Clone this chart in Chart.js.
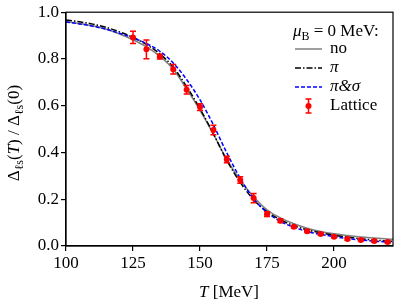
<!DOCTYPE html>
<html>
<head>
<meta charset="utf-8">
<script src="https://cdn.jsdelivr.net/npm/chart.js@4.4.0/dist/chart.umd.min.js"></script>
<style>
html,body{margin:0;padding:0;background:#fff;}
#wrap{width:399px;height:306px;}
</style>
</head>
<body>
<div id="wrap"><canvas id="c" width="399" height="306"></canvas></div>
<script>
// ---- data ----
const tGrid = [100,105,110,115,120,125,130,135,140,145,150,155,160,165,170,175,180,185,190,195,200,205,210,215,220,222];
const curveNo      = [0.960,0.952,0.942,0.927,0.907,0.882,0.852,0.812,0.756,0.672,0.580,0.478,0.370,0.282,0.211,0.155,0.120,0.095,0.076,0.062,0.052,0.045,0.039,0.034,0.030,0.029];
const curvePi      = [0.967,0.959,0.949,0.935,0.916,0.892,0.862,0.822,0.765,0.682,0.587,0.480,0.366,0.272,0.198,0.147,0.112,0.087,0.069,0.056,0.046,0.038,0.031,0.026,0.021,0.020];
const curvePiSigma = [0.958,0.950,0.940,0.927,0.910,0.890,0.866,0.833,0.783,0.712,0.625,0.518,0.398,0.290,0.202,0.143,0.105,0.080,0.062,0.050,0.040,0.032,0.026,0.021,0.017,0.016];
const latticeT   = [125,130,135,140,145,150,155,160,165,170,175,180,185,190,195,200,205,210,215,220];
const latticeVal = [0.892,0.841,0.810,0.756,0.668,0.594,0.496,0.370,0.282,0.205,0.136,0.108,0.082,0.063,0.051,0.040,0.030,0.026,0.021,0.017];
const latticeErr = [0.026,0.040,0.010,0.020,0.018,0.014,0.020,0.014,0.014,0.020,0.010,0.008,0.005,0.005,0.005,0.005,0.005,0.005,0.005,0.005];
const xTicks = [100,125,150,175,200];
const yTicks = [0.0,0.2,0.4,0.6,0.8,1.0];
const legendTitle = ['μ','B',' = 0 MeV:'];
const legendLabels = ['no','π','π&σ','Lattice'];

const FONT = '"Liberation Serif", "DejaVu Serif", serif';
const colNo = '#7f7f7f', colPi = '#000000', colPS = '#0000ff', colLat = '#ff0000';

const toXY = (xs, ys) => xs.map((x,i)=>({x:x, y:ys[i]}));

function drawRich(ctx, parts, x, y, size, align){
  ctx.textAlign = 'left';
  const widths = parts.map(p=>{
    ctx.font = (p.italic?'italic ':'') + (p.sub? size*0.7 : size) + 'px ' + FONT;
    return ctx.measureText(p.t).width;
  });
  const total = widths.reduce((a,b)=>a+b,0);
  let cx = align==='center' ? x - total/2 : x;
  parts.forEach((p,i)=>{
    ctx.font = (p.italic?'italic ':'') + (p.sub? size*0.7 : size) + 'px ' + FONT;
    ctx.fillText(p.t, cx, p.sub ? y + size*0.25 : y);
    cx += widths[i];
  });
}

const errorBarPlugin = {
  id:'errbars',
  beforeDatasetDraw(chart, args){
    if(args.index !== 3) return;
    const ctx = chart.ctx, xs = chart.scales.x, ys = chart.scales.y;
    ctx.save();
    ctx.strokeStyle = colLat; ctx.lineWidth = 1.5;
    latticeT.forEach((t,i)=>{
      const px = xs.getPixelForValue(t);
      const y1 = ys.getPixelForValue(latticeVal[i]-latticeErr[i]);
      const y2 = ys.getPixelForValue(latticeVal[i]+latticeErr[i]);
      ctx.beginPath();
      ctx.moveTo(px,y1); ctx.lineTo(px,y2);
      ctx.moveTo(px-3,y1); ctx.lineTo(px+3,y1);
      ctx.moveTo(px-3,y2); ctx.lineTo(px+3,y2);
      ctx.stroke();
    });
    ctx.restore();
  }
};

const framePlugin = {
  id:'frame',
  afterDatasetsDraw(chart){
    const a = chart.chartArea, ctx = chart.ctx;
    ctx.save();
    ctx.strokeStyle = '#000'; ctx.lineWidth = 1.2;
    ctx.strokeRect(a.left, a.top, a.right-a.left, a.bottom-a.top);
    ctx.restore();
  }
};

const textPlugin = {
  id:'texts',
  afterDraw(chart){
    const ctx = chart.ctx, a = chart.chartArea;
    ctx.save();
    ctx.fillStyle = '#000';
    ctx.textBaseline = 'alphabetic';
    // x title
    drawRich(ctx, [{t:'T',italic:true},{t:' [MeV]'}], 229, 297, 17, 'center');
    // y title
    ctx.save();
    ctx.translate(19, (a.top+a.bottom)/2 + 4);
    ctx.rotate(-Math.PI/2);
    drawRich(ctx, [{t:'Δ'},{t:'ℓs',sub:true},{t:'('},{t:'T',italic:true},{t:') / Δ'},{t:'ℓs',sub:true},{t:'(0)'}], 0, 0, 17, 'center');
    ctx.restore();
    // legend
    const lx0 = 295, lx1 = 322, tx = 330;
    drawRich(ctx, [{t:legendTitle[0],italic:true},{t:legendTitle[1],sub:true},{t:legendTitle[2]}], 293, 36, 17, 'left');
    const rows = [49, 68, 87, 106];
    const styles = [
      {c:colNo, d:[]},
      {c:colPi, d:[6,2,1.5,2]},
      {c:colPS, d:[4,2]}
    ];
    ctx.lineWidth = 1.5;
    styles.forEach((s,i)=>{
      ctx.strokeStyle = s.c; ctx.setLineDash(s.d);
      ctx.beginPath(); ctx.moveTo(lx0, rows[i]); ctx.lineTo(lx1, rows[i]); ctx.stroke();
    });
    ctx.setLineDash([]);
    // lattice marker
    const mx = (lx0+lx1)/2, my = rows[3];
    ctx.strokeStyle = colLat; ctx.fillStyle = colLat;
    ctx.beginPath();
    ctx.moveTo(mx, my-7); ctx.lineTo(mx, my+7);
    ctx.moveTo(mx-3, my-7); ctx.lineTo(mx+3, my-7);
    ctx.moveTo(mx-3, my+7); ctx.lineTo(mx+3, my+7);
    ctx.stroke();
    ctx.beginPath(); ctx.arc(mx, my, 3, 0, Math.PI*2); ctx.fill();
    ctx.fillStyle = '#000';
    ctx.textAlign = 'left';
    ctx.textBaseline = 'middle';
    ctx.font = '17px ' + FONT;
    ctx.fillText(legendLabels[0], tx, rows[0]);
    ctx.font = 'italic 17px ' + FONT;
    ctx.fillText(legendLabels[1], tx, rows[1]);
    ctx.fillText(legendLabels[2], tx, rows[2]);
    ctx.font = '17px ' + FONT;
    ctx.fillText(legendLabels[3], tx, rows[3]);
    ctx.restore();
  }
};

new Chart(document.getElementById('c'), {
  type:'scatter',
  data:{
    datasets:[
      {label:'no', data:toXY(tGrid,curveNo), showLine:true, borderColor:colNo, borderWidth:1.5, pointRadius:0, cubicInterpolationMode:'monotone', order:3},
      {label:'π', data:toXY(tGrid,curvePi), showLine:true, borderColor:colPi, borderWidth:1.5, borderDash:[6,2,1.5,2], pointRadius:0, cubicInterpolationMode:'monotone', order:2},
      {label:'π&σ', data:toXY(tGrid,curvePiSigma), showLine:true, borderColor:colPS, borderWidth:1.5, borderDash:[4,2], pointRadius:0, cubicInterpolationMode:'monotone', order:1},
      {label:'Lattice', data:toXY(latticeT,latticeVal), showLine:false, backgroundColor:colLat, borderColor:colLat, pointRadius:3, borderWidth:0, order:0}
    ]
  },
  options:{
    responsive:false, animation:false, devicePixelRatio:1,
    layout:{padding:{top:11,right:6,left:0,bottom:0}},
    plugins:{legend:{display:false}, tooltip:{enabled:false}},
    scales:{
      x:{type:'linear', min:100, max:222,
        afterBuildTicks:s=>{s.ticks = xTicks.map(v=>({value:v}));},
        afterFit:s=>{s.height = 60;},
        grid:{drawOnChartArea:false, drawTicks:true, tickLength:5, color:'#000', lineWidth:1.2},
        border:{display:true, color:'#000', width:1.2},
        ticks:{color:'#000', font:{family:FONT, size:17}, padding:2, maxRotation:0, callback:v=>String(v)}
      },
      y:{type:'linear', min:0, max:1,
        afterBuildTicks:s=>{s.ticks = yTicks.map(v=>({value:v}));},
        afterFit:s=>{s.width = 66;},
        grid:{drawOnChartArea:false, drawTicks:true, tickLength:5, color:'#000', lineWidth:1.2},
        border:{display:true, color:'#000', width:1.2},
        ticks:{color:'#000', font:{family:FONT, size:17}, padding:2, callback:v=>Number(v).toFixed(1)}
      }
    }
  },
  plugins:[errorBarPlugin, framePlugin, textPlugin]
});
</script>
</body>
</html>
